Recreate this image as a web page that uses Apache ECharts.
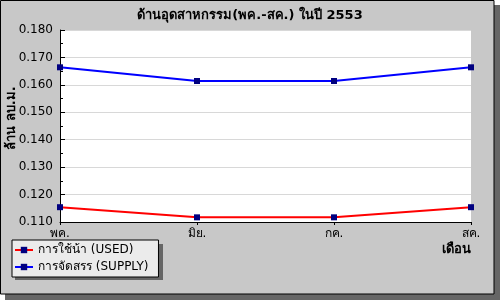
<!DOCTYPE html>
<html><head><meta charset="utf-8">
<script src="https://cdn.jsdelivr.net/npm/echarts@6/dist/echarts.min.js"></script>
<style>html,body{margin:0;padding:0;background:#fff}#c{width:500px;height:300px}</style>
</head><body><div id="c"></div>
<script>
const titleText = 'ด้านอุดสาหกรรม(พค.-สค.) ในปี 2553';
const months = ['พค.', 'มิย.', 'กค.', 'สค.'];
const usedName = 'การใช้น้า (USED)';
const supplyName = 'การจัดสรร (SUPPLY)';
const usedValues = [0.1154, 0.1117, 0.1117, 0.1154];
const supplyValues = [0.1664, 0.1614, 0.1614, 0.1664];
const yAxisName = 'ล้าน ลบ.ม.';
const xAxisName = 'เดือน';

const FONT = '"DejaVu Sans", "Noto Sans", sans-serif';
const chart = echarts.init(document.getElementById('c'), null, {renderer: 'canvas'});
chart.setOption({
  backgroundColor: '#ffffff',
  animation: false,
  textStyle: {fontFamily: FONT},
  graphic: [
    {type: 'rect', z: -10, shape: {x: 5, y: 5, width: 495, height: 295}, style: {fill: '#666666'}, silent: true},
    {type: 'rect', z: -9, shape: {x: 0.5, y: 0.5, width: 493.5, height: 293.5}, style: {fill: '#c8c8c8', stroke: '#000', lineWidth: 1}, silent: true},
    {type: 'rect', z: -8, shape: {x: 60, y: 30, width: 411, height: 192}, style: {fill: '#ffffff'}, silent: true},
    {type: 'rect', z: -8, shape: {x: 15, y: 244, width: 148, height: 36}, style: {fill: '#666666'}, silent: true}
  ],
  title: {
    text: titleText, left: 'center', top: 4,
    textStyle: {fontFamily: FONT, fontSize: 13, fontWeight: 'bold', color: '#000'}
  },
  legend: {
    orient: 'vertical', left: 12, top: 240,
    backgroundColor: '#ebebeb', borderColor: '#000', borderWidth: 1,
    padding: [4, 10, 4, 2], itemGap: 5, itemWidth: 18, itemHeight: 8,
    textStyle: {fontFamily: FONT, fontSize: 12, color: '#000'},
    data: [usedName, supplyName]
  },
  grid: {left: 60, top: 30, right: 29, bottom: 78, containLabel: false, outerBoundsMode: 'none'},
  xAxis: {
    type: 'category', data: months, boundaryGap: false,
    axisLine: {lineStyle: {color: '#000', width: 1}},
    axisTick: {show: true, length: 3, alignWithLabel: true, lineStyle: {color: '#000'}},
    axisLabel: {color: '#000', fontSize: 12, margin: 6, fontFamily: FONT},
    splitLine: {show: false},
    name: xAxisName, nameLocation: 'end', nameGap: 0, nameMoveOverlap: false,
    nameTextStyle: {fontFamily: FONT, fontSize: 13, fontWeight: 'bold', color: '#000', align: 'right', verticalAlign: 'top', padding: [21, 0, 0, 0]}
  },
  yAxis: {
    type: 'value', min: 0.110, max: 0.180, interval: 0.010,
    axisLine: {show: true, lineStyle: {color: '#000', width: 1}},
    axisTick: {show: true, inside: true, length: 5, lineStyle: {color: '#000'}},
    minorTick: {show: true, splitNumber: 2, length: 3, lineStyle: {color: '#000'}},
    axisLabel: {color: '#000', fontSize: 12, margin: 7, fontFamily: FONT, formatter: v => v.toFixed(3)},
    splitLine: {show: true, lineStyle: {color: '#d8d8d8', width: 1}},
    name: yAxisName, nameLocation: 'middle', nameRotate: 90, nameGap: 42, nameMoveOverlap: false,
    nameTextStyle: {fontFamily: FONT, fontSize: 13, fontWeight: 'bold', color: '#000', padding: [0, 0, 0, 16]}
  },
  series: [
    {name: usedName, type: 'line', data: usedValues, symbol: 'rect', symbolSize: 6,
     itemStyle: {color: '#000080'}, lineStyle: {color: '#ff0000', width: 2}},
    {name: supplyName, type: 'line', data: supplyValues, symbol: 'rect', symbolSize: 6,
     itemStyle: {color: '#000080'}, lineStyle: {color: '#0000ff', width: 2}}
  ]
});
</script></body></html>
